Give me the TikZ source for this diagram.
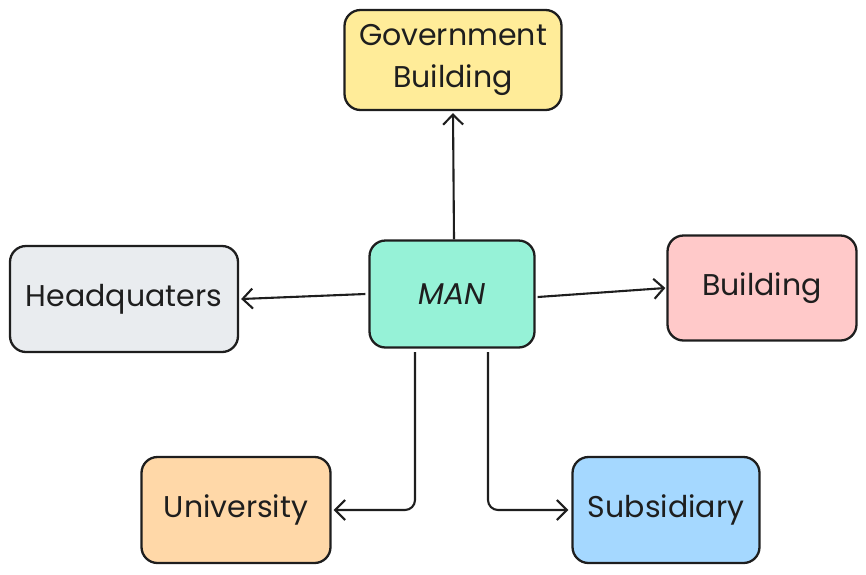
\documentclass[tikz,border=0pt]{standalone}
\usepackage{fontspec}
\setmainfont{Poppins}
\usetikzlibrary{arrows.meta}
\definecolor{ink}{HTML}{1E1E1E}
\definecolor{cyellow}{HTML}{FFEC99}
\definecolor{cteal}{HTML}{96F2D7}
\definecolor{cgray}{HTML}{E9ECEF}
\definecolor{cred}{HTML}{FFC9C9}
\definecolor{corange}{HTML}{FFD8A8}
\definecolor{cblue}{HTML}{A5D8FF}
\tikzset{
  box/.style={draw=ink, line width=2.3pt, rounded corners=16pt, inner sep=0pt,
    font=\fontsize{30}{42}\selectfont, text=ink, align=center},
  conn/.style={draw=ink, line width=2.1pt, rounded corners=10pt,
    -{Straight Barb[length=10pt,width=20pt,line width=2.1pt]}}
}
\begin{document}
\begin{tikzpicture}[x=1pt,y=-1pt]
\useasboundingbox (0,0) rectangle (866,574);
\node[box, fill=cyellow, minimum width=217pt, minimum height=100pt] (gov) at (453,60) {Government\\Building};
\node[box, fill=cteal, minimum width=165pt, minimum height=107pt] (man) at (452,294) {\itshape MAN};
\node[box, fill=cgray, minimum width=228pt, minimum height=106pt] (hq) at (124,299) {Headquaters};
\node[box, fill=cred, minimum width=189pt, minimum height=105pt] (bld) at (762,288) {Building};
\node[box, fill=corange, minimum width=189pt, minimum height=106pt] (uni) at (236,510) {University};
\node[box, fill=cblue, minimum width=187pt, minimum height=106pt] (sub) at (666,510) {Subsidiary};
\coordinate (m1) at (415,352);
\coordinate (m2) at (488,352);
\draw[conn] (man.north) ++(2,0) -- ([yshift=-2pt]gov.south);
\draw[conn] ([xshift=-3pt]man.west) -- ([xshift=2pt]hq.east);
\draw[conn] ([xshift=2pt,yshift=-3pt]man.east) -- ([xshift=-1pt]bld.west);
\draw[conn] (m1) |- ([xshift=2pt]uni.east);
\draw[conn] (m2) |- ([xshift=-3pt]sub.west);
\end{tikzpicture}
\end{document}
